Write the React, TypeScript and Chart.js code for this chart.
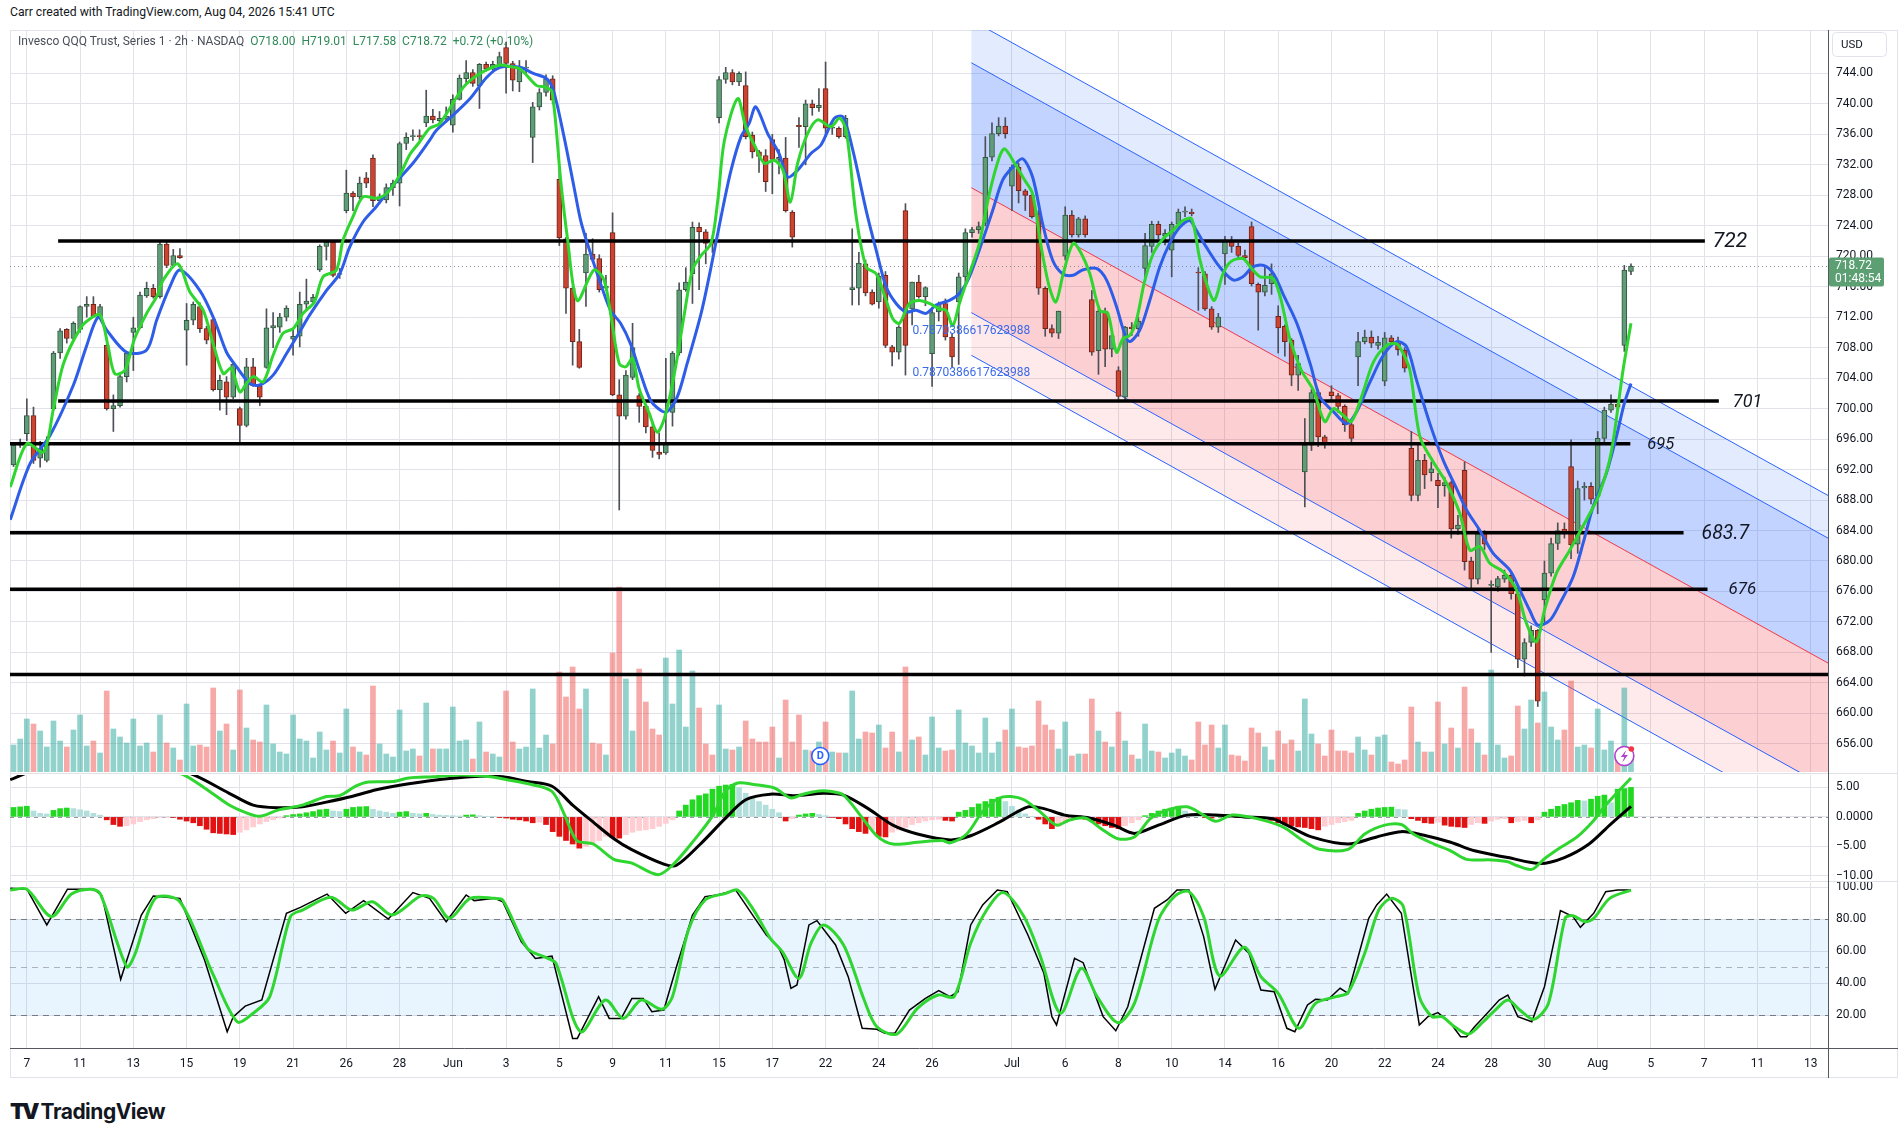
import React, { useEffect, useRef } from 'react';
import { Chart, registerables } from 'chart.js';

Chart.register(...registerables);

// ---------- price bars (2h, Invesco QQQ Trust) ----------
const openP = [
  692.6, 695.2, 696.7, 699.1, 693.5, 693.2, 700.0, 707.3, 710.4, 709.2,
  710.4, 713.4, 713.7, 712.1, 708.3, 700.0, 700.4, 704.2, 710.0, 710.6,
  714.8, 715.8, 714.7, 721.6, 718.8, 720.1, 710.3, 711.6, 713.4, 710.5,
  711.7, 702.5, 703.5, 701.5, 700.0, 697.8, 705.5, 703.0, 705.4, 710.6,
  710.7, 712.0, 709.1, 709.5, 713.7, 714.0, 718.2, 721.3, 721.9, 717.6,
  726.0, 728.3, 727.8, 730.3, 732.9, 727.3, 727.4, 729.0, 729.6, 734.8,
  735.7, 735.8, 737.5, 738.4, 737.8, 738.0, 737.2, 740.6, 743.3, 744.1,
  742.4, 745.2, 744.6, 745.1, 747.4, 745.3, 742.9, 744.7, 735.6, 739.6,
  741.5, 743.3, 730.1, 722.3, 715.8, 708.8, 717.8, 720.3, 719.7, 715.8,
  723.1, 701.8, 699.0, 704.1, 701.7, 700.3, 697.6, 694.3, 694.2, 699.5,
  707.3, 715.6, 717.7, 723.8, 723.2, 721.7, 738.2, 743.2, 744.1, 742.9,
  742.4, 735.9, 733.7, 733.2, 735.3, 732.7, 732.9, 725.8, 737.2, 737.0,
  740.0, 739.5, 742.0, 736.8, 736.8, 735.7, 715.6, 715.8, 719.0, 715.3,
  714.0, 717.5, 708.1, 707.4, 726.0, 713.1, 716.6, 714.7, 707.2, 712.7,
  713.8, 709.4, 714.0, 717.3, 723.1, 723.5, 724.3, 733.0, 736.1, 737.1,
  729.2, 731.7, 728.6, 728.0, 725.6, 715.8, 710.5, 709.9, 720.0, 725.4,
  722.8, 724.9, 714.3, 707.6, 712.8, 707.8, 705.0, 701.5, 710.7, 710.5,
  718.4, 721.3, 724.2, 722.7, 720.8, 724.2, 725.8, 725.8, 717.9, 717.7,
  713.1, 710.7, 720.3, 722.1, 721.3, 720.1, 723.9, 716.3, 715.3, 716.4,
  712.1, 710.8, 709.0, 704.4, 691.7, 695.2, 702.1, 696.3, 702.2, 701.7,
  700.3, 697.9, 706.8, 708.8, 709.4, 708.3, 703.6, 709.3, 708.7, 707.7,
  694.8, 688.6, 693.2, 691.6, 690.6, 689.9, 690.3, 684.2, 691.9, 680.0,
  677.6, 683.6, 676.8, 676.6, 677.6, 678.1, 675.7, 667.1, 669.3, 670.9,
  674.9, 678.4, 682.3, 684.2, 692.4, 682.2, 689.6, 689.8, 688.5, 696.1,
  699.8, 700.6, 708.3, 718.0,
];
const highP = [
  695.5, 696.0, 701.3, 700.2, 695.7, 696.3, 707.5, 710.5, 710.5, 711.4,
  713.5, 714.7, 714.7, 713.7, 708.4, 701.8, 704.4, 707.5, 712.0, 715.3,
  716.6, 716.3, 722.0, 722.0, 720.9, 721.0, 713.8, 714.0, 713.9, 710.8,
  711.8, 704.4, 704.2, 706.0, 700.2, 706.6, 706.6, 703.2, 713.1, 712.6,
  712.5, 713.5, 710.3, 715.3, 717.0, 715.0, 721.5, 722.0, 722.1, 718.4,
  731.3, 728.5, 730.4, 731.0, 733.3, 728.2, 729.5, 730.0, 735.0, 736.2,
  736.6, 736.6, 741.8, 739.3, 739.0, 739.6, 741.2, 743.8, 745.7, 744.5,
  745.3, 745.5, 745.6, 746.8, 748.1, 745.6, 745.7, 745.7, 740.2, 742.0,
  743.8, 743.7, 731.7, 722.5, 716.0, 710.4, 723.0, 722.3, 720.2, 717.5,
  725.7, 703.8, 705.0, 711.2, 702.0, 700.5, 698.0, 696.8, 706.6, 707.5,
  716.5, 718.5, 724.5, 724.4, 723.5, 722.3, 743.6, 744.8, 744.5, 744.2,
  744.2, 736.3, 733.9, 734.0, 736.0, 734.0, 735.6, 726.0, 738.2, 740.5,
  740.5, 742.0, 745.5, 737.5, 737.0, 738.5, 723.6, 720.5, 719.5, 715.6,
  717.8, 718.0, 708.3, 710.9, 726.9, 716.6, 717.5, 716.0, 713.2, 714.0,
  714.4, 709.8, 717.8, 723.6, 723.8, 724.5, 735.7, 737.5, 738.2, 738.2,
  732.0, 732.2, 728.8, 728.5, 726.0, 716.0, 711.0, 712.8, 726.5, 726.0,
  725.1, 725.3, 715.5, 713.5, 713.2, 710.0, 705.5, 710.8, 711.3, 712.0,
  723.0, 724.6, 724.6, 723.5, 724.5, 726.2, 726.5, 726.2, 718.5, 718.0,
  713.4, 712.5, 722.6, 722.6, 721.8, 720.8, 724.5, 716.5, 718.8, 719.0,
  713.5, 711.0, 709.2, 707.0, 698.7, 702.5, 702.5, 696.5, 703.0, 702.0,
  700.5, 698.5, 710.0, 710.3, 710.2, 709.5, 710.0, 709.6, 709.4, 708.0,
  697.0, 695.5, 694.0, 693.0, 691.5, 691.0, 690.5, 686.0, 693.0, 680.5,
  684.3, 684.0, 677.4, 678.0, 678.8, 678.5, 676.0, 669.8, 671.5, 671.0,
  680.0, 683.0, 685.0, 685.0, 695.9, 690.5, 690.3, 690.3, 697.0, 700.2,
  701.8, 701.0, 718.8, 719.01,
];
const lowP = [
  692.4, 694.9, 695.8, 692.8, 692.3, 693.0, 699.8, 706.6, 708.6, 709.0,
  710.0, 712.0, 712.0, 712.0, 699.8, 697.0, 700.2, 703.5, 705.0, 710.5,
  714.6, 714.5, 714.5, 718.5, 718.6, 719.7, 705.7, 711.0, 710.0, 708.5,
  702.3, 699.8, 699.2, 701.3, 695.6, 697.6, 702.9, 700.4, 705.3, 708.0,
  710.0, 711.5, 707.0, 708.1, 713.0, 713.8, 718.0, 719.5, 717.3, 717.1,
  725.7, 726.0, 727.5, 729.0, 726.5, 727.0, 727.0, 728.0, 726.6, 734.0,
  735.2, 735.2, 737.0, 737.5, 737.3, 737.8, 736.3, 740.5, 742.7, 742.3,
  739.4, 744.3, 744.3, 744.8, 741.4, 741.7, 741.6, 743.8, 732.3, 739.2,
  741.0, 740.0, 721.4, 712.5, 705.7, 705.3, 713.4, 719.3, 715.3, 715.5,
  701.7, 686.7, 698.6, 703.8, 698.2, 696.8, 693.6, 693.4, 694.0, 697.7,
  707.0, 715.4, 713.8, 715.6, 719.0, 720.5, 737.5, 742.7, 742.5, 742.4,
  735.4, 732.9, 731.0, 728.5, 728.2, 730.8, 725.8, 721.2, 734.3, 732.0,
  738.5, 739.0, 735.7, 736.0, 735.5, 735.5, 713.6, 713.6, 714.8, 713.6,
  713.2, 708.0, 705.6, 706.5, 704.4, 711.0, 714.5, 713.5, 702.9, 711.5,
  709.0, 705.5, 705.8, 716.5, 722.5, 723.0, 724.0, 732.5, 735.8, 735.5,
  726.0, 727.0, 726.0, 725.0, 715.0, 709.5, 709.4, 709.2, 719.5, 722.5,
  722.5, 722.5, 707.0, 704.5, 705.5, 706.8, 701.2, 701.0, 709.6, 709.5,
  717.3, 720.5, 722.3, 721.5, 717.3, 723.5, 725.2, 725.3, 712.9, 712.9,
  710.4, 710.0, 716.3, 720.5, 719.8, 719.5, 716.1, 710.3, 714.8, 715.0,
  707.3, 706.9, 703.0, 702.4, 687.1, 694.5, 695.0, 694.8, 701.0, 699.5,
  697.0, 695.5, 703.0, 708.5, 708.0, 707.8, 703.0, 708.4, 707.0, 704.8,
  687.9, 687.9, 689.5, 690.5, 687.0, 688.5, 683.0, 683.5, 678.8, 676.5,
  677.0, 681.5, 668.0, 676.0, 677.2, 675.0, 666.0, 664.9, 668.8, 660.9,
  672.0, 678.0, 681.5, 683.0, 680.3, 681.0, 688.0, 687.5, 686.2, 695.5,
  699.5, 699.8, 707.5, 717.58,
];
const closeP = [
  695.2, 695.6, 699.1, 693.2, 694.8, 695.6, 707.3, 710.2, 709.2, 711.2,
  713.4, 713.7, 712.1, 713.4, 700.0, 700.4, 704.2, 707.3, 710.6, 714.9,
  715.8, 714.7, 721.6, 718.8, 720.1, 719.8, 711.6, 713.7, 710.5, 709.0,
  702.5, 703.7, 701.5, 705.8, 697.8, 705.5, 703.0, 701.5, 710.6, 710.9,
  712.0, 713.2, 709.5, 713.7, 714.1, 714.6, 721.3, 721.9, 717.5, 717.6,
  728.3, 727.8, 729.6, 729.6, 727.3, 727.8, 729.0, 729.6, 734.8, 735.6,
  735.8, 735.7, 738.4, 737.9, 738.1, 738.4, 740.6, 743.4, 744.1, 742.7,
  745.2, 744.6, 745.2, 746.2, 745.3, 743.1, 744.6, 744.8, 739.6, 741.5,
  743.3, 740.5, 722.4, 715.8, 708.8, 705.4, 720.3, 719.6, 715.6, 716.1,
  701.8, 699.0, 704.4, 708.0, 700.3, 697.6, 694.5, 694.0, 695.3, 707.3,
  715.6, 716.6, 723.8, 723.2, 721.7, 721.6, 743.2, 744.1, 742.9, 744.0,
  735.7, 733.7, 733.1, 729.8, 732.7, 733.0, 726.0, 722.5, 737.0, 740.0,
  739.5, 739.8, 736.8, 736.9, 735.7, 738.1, 715.9, 719.1, 715.2, 713.7,
  717.4, 708.3, 707.4, 710.7, 708.3, 716.6, 714.7, 715.9, 712.6, 713.7,
  709.4, 706.8, 717.3, 723.1, 723.5, 723.9, 733.0, 736.1, 737.1, 736.1,
  731.7, 728.6, 728.0, 725.2, 715.8, 710.5, 709.9, 712.8, 725.4, 722.8,
  724.9, 722.8, 707.4, 712.8, 707.8, 709.6, 701.6, 710.7, 710.5, 711.5,
  721.4, 724.2, 722.8, 723.0, 724.2, 725.8, 725.9, 725.6, 717.8, 713.1,
  710.7, 712.0, 722.1, 721.3, 720.1, 719.8, 716.4, 715.3, 716.2, 717.7,
  710.6, 708.8, 704.4, 705.9, 695.2, 702.1, 696.3, 695.4, 701.7, 700.3,
  697.9, 696.1, 708.8, 709.4, 708.6, 708.7, 709.3, 708.8, 707.7, 705.3,
  688.6, 693.2, 691.3, 692.1, 689.9, 690.3, 684.2, 684.7, 679.9, 677.6,
  683.6, 682.2, 676.9, 677.7, 678.1, 675.7, 667.1, 669.3, 670.9, 661.6,
  678.4, 682.3, 684.0, 683.8, 682.1, 689.5, 689.8, 688.1, 696.1, 699.8,
  700.6, 700.2, 718.2, 718.72,
];
// volume, millions of shares
const volume = [
  2.7, 3.3, 5.3, 4.8, 4.1, 2.5, 5.1, 3.1, 2.5, 4.2,
  5.7, 2.6, 3.1, 1.9, 8.1, 4.3, 3.5, 2.9, 5.3, 2.6,
  2.9, 2.0, 5.7, 2.9, 2.4, 1.2, 6.8, 2.6, 2.7, 2.5,
  8.4, 4.1, 4.8, 2.2, 8.2, 4.4, 3.2, 3.0, 6.7, 2.8,
  2.0, 1.8, 5.7, 3.3, 3.1, 1.4, 4.0, 2.2, 3.1, 1.9,
  6.3, 2.5, 2.0, 1.7, 8.6, 2.8, 1.8, 1.5, 6.2, 2.1,
  2.3, 1.6, 6.9, 2.3, 2.3, 2.3, 6.5, 3.1, 3.2, 1.3,
  5.0, 2.0, 1.8, 1.5, 8.1, 3.0, 2.3, 2.5, 8.3, 2.4,
  3.7, 2.8, 10.0, 7.5, 10.5, 6.3, 8.3, 2.9, 2.8, 1.7,
  11.9, 18.5, 9.3, 4.1, 10.3, 7.0, 4.3, 3.7, 11.4, 6.8,
  12.2, 4.5, 10.1, 6.4, 2.8, 1.7, 6.7, 2.3, 2.2, 2.5,
  5.1, 3.3, 3.0, 3.0, 4.5, 1.4, 7.2, 3.0, 5.7, 2.2,
  2.1, 3.0, 5.0, 2.0, 1.9, 1.9, 8.1, 3.3, 4.0, 3.9,
  4.7, 2.4, 4.0, 2.0, 10.5, 3.2, 3.5, 1.7, 5.5, 2.4,
  2.1, 2.2, 6.2, 2.9, 2.6, 1.9, 5.4, 1.9, 3.0, 4.2,
  6.3, 2.5, 2.4, 2.6, 7.1, 4.7, 4.2, 2.3, 5.0, 1.6,
  1.8, 1.8, 7.3, 4.1, 3.0, 2.5, 6.0, 3.1, 1.7, 1.3,
  4.8, 2.1, 2.0, 1.4, 1.9, 2.3, 1.6, 1.2, 5.0, 2.7,
  4.7, 2.4, 4.7, 1.7, 1.6, 1.1, 4.4, 3.9, 2.5, 1.2,
  4.1, 2.8, 3.2, 2.1, 7.3, 3.8, 2.8, 1.6, 4.2, 2.1,
  2.1, 1.9, 3.5, 2.2, 1.7, 3.5, 3.7, 1.0, 0.8, 1.2,
  6.5, 3.0, 2.0, 2.0, 7.0, 2.8, 4.4, 2.4, 8.5, 4.3,
  2.9, 1.7, 10.2, 2.7, 1.4, 1.6, 6.6, 4.3, 7.2, 4.9,
  8.0, 4.5, 3.2, 4.2, 9.1, 2.5, 2.7, 2.4, 6.3, 2.2,
  3.1, 1.9, 8.4, 1.5,
];

// ---------- moving averages on price: [bar, price] ----------
const emaFast = [
  [-0.5, 689.7], [2, 695.4], [4.5, 694.3], [6, 700], [7.5, 705.9], [10, 710.5], [11.5, 711.8], [13, 712.3],
  [14.2, 708.2], [15.2, 704.6], [16.7, 705], [18.2, 709.2], [20, 712.5], [21.5, 714.7], [22.5, 716.9], [24.7, 719],
  [26.5, 715.3], [28.5, 712.9], [30, 708.5], [31.5, 704.6], [32.7, 705.3], [34, 702.2], [35, 703.3], [36, 704.2],
  [37.5, 703.5], [39, 707], [40.5, 709.9], [42, 710.5], [43.5, 712.5], [45.2, 714], [46.5, 717.3], [48.5, 718.2],
  [49.5, 722.1], [51, 725.2], [52.5, 727.8], [54.5, 727.6], [56, 728.2], [58, 730.6], [59.5, 733.3], [61, 735],
  [62.5, 736.8], [64, 737.4], [67.6, 742.2], [70.1, 744], [73.1, 745.1], [74.6, 744.9], [76.1, 744.6], [78.6, 742.4],
  [79.9, 742.2], [80.9, 741.6], [82.2, 730], [83.2, 722.5], [84.7, 714.2], [87.2, 718.2], [88.7, 716.9], [89.7, 712.5],
  [91, 705.9], [92, 705.5], [93, 706.6], [94, 702.6], [95.5, 699.4], [96.7, 696.9], [97.7, 698.5], [98.7, 702],
  [99.7, 706.6], [100.7, 712], [102, 718.2], [103.3, 720.1], [104.8, 721.7], [105.8, 727.3], [106.8, 735.2], [108.8, 740.7],
  [110, 737], [111.3, 734.6], [112.8, 732.2], [114.3, 732.6], [115.6, 731.3], [116.7, 727.1], [117.8, 732.2], [119.3, 736.1],
  [120.8, 737.9], [122.8, 737], [124.1, 738.1], [125.1, 736.5], [126.6, 725.2], [128.1, 718.6], [129.6, 717.7], [131.1, 714.2],
  [132.1, 711.8], [133.1, 711.2], [134.6, 713.8], [136.1, 714.2], [137.6, 713.8], [139.1, 713.1], [140.1, 712.9], [141.1, 710.9],
  [142.1, 713.8], [143.6, 717.7], [145.1, 721.7], [146.6, 728.2], [148.1, 733], [148.9, 734.1], [150.4, 732.2], [151.9, 730],
  [153.1, 728.2], [154.4, 721.2], [155.6, 716], [156.6, 714], [157.7, 717.7], [159.2, 721.7], [160.4, 720.4], [161.7, 717.7],
  [163.2, 712.9], [164.4, 712.5], [165.7, 707.4], [166.7, 709.2], [167.7, 709.6], [168.7, 711.6], [169.9, 716.6], [171.2, 720.3],
  [172.7, 722.3], [174.2, 723.4], [175.7, 724.7], [177, 724.9], [178.2, 719.7], [179.4, 716], [180.4, 714.2], [181.7, 717.7],
  [182.9, 719.3], [184.7, 719.7], [186, 718.4], [187.3, 717.3], [189.2, 717.1], [190.3, 714.7], [191.8, 709], [193.5, 705],
  [195.3, 702.4], [197, 698.3], [198.3, 700], [199.8, 699.1], [201, 698.3], [202.5, 701.5], [204.3, 706.1], [206.3, 708.3],
  [207.8, 708.5], [208.8, 707.2], [209.8, 705], [211.3, 696.3], [213.3, 693], [215.3, 690.2], [217.3, 686.2], [218.8, 681.4],
  [220.3, 681.9], [221.8, 679.7], [223.8, 678.6], [225.8, 676.2], [227.3, 671.8], [228.8, 669.4], [230, 673.5], [231.8, 678.4],
  [233.8, 681.4], [235.3, 683.8], [236.8, 686.2], [238.3, 688.9], [240, 694.1], [241.8, 705], [243, 711.2],
];
const emaSlow = [
  [-0.5, 685.4], [2.5, 692.8], [5.5, 696.5], [9, 703.1], [11, 708.3], [12.7, 712], [14, 710.3], [17, 707.4],
  [20, 707.7], [21.5, 711.6], [23.5, 716], [25, 718.2], [28, 715.5], [30.2, 711.6], [32, 707.4], [33.5, 705.5],
  [35.5, 703.3], [37, 703.1], [39, 704.4], [41, 707.2], [43, 710.1], [44.5, 712.3], [47, 715.5], [49, 717.7],
  [50.5, 721.2], [52.5, 724.5], [54.5, 726.5], [57, 729.3], [60, 732.2], [62.5, 735.2], [63.5, 736.5], [66, 738.5],
  [68.6, 740.7], [71.1, 743.5], [73.1, 744.8], [76.1, 744.8], [78.1, 744], [80.1, 743.3], [81.1, 741.8], [82.7, 735.7],
  [84.2, 729.1], [85.2, 724.7], [86.2, 721.7], [88.2, 716.4], [89.7, 712.9], [91.2, 711.2], [92.7, 708.5], [94.2, 704.6],
  [95.7, 701.1], [97.2, 699.8], [98.2, 699.6], [99.7, 701.5], [101.2, 705.9], [103.3, 712.5], [104.8, 718.6], [106.3, 725.2],
  [107.8, 731.3], [109.3, 735.7], [110.5, 737.4], [111.5, 739.6], [113.3, 736.1], [115, 733.5], [116.3, 730.4], [117.8, 731.3],
  [119.8, 733.5], [121.3, 734.6], [123.3, 738.1], [124.6, 738.3], [126.1, 733.9], [128.1, 726], [129.6, 720.8], [131.1, 716],
  [132.6, 713.8], [134.1, 712.7], [135.6, 712.9], [137.1, 712.5], [138.6, 713.6], [140.6, 714.2], [142.1, 715.1], [143.6, 717.3],
  [145.6, 722.1], [147.1, 726], [148.6, 730], [150.1, 731.7], [151.6, 732.8], [153.1, 730.4], [154.6, 724.3], [156.1, 719.5],
  [157.6, 717.7], [159.2, 717.5], [160.6, 718.2], [162.7, 718.4], [164.2, 716.9], [165.7, 713.4], [166.9, 709.9], [167.7, 708.8],
  [169.2, 710.3], [170.7, 714.2], [172.2, 718.6], [173.7, 721.7], [175.2, 723.8], [176.7, 724.7], [177.7, 723.4], [179.2, 721.2],
  [181.2, 718.6], [183.2, 716.9], [184.7, 717.3], [186.2, 718.6], [187.8, 718.8], [189.3, 717.7], [190.8, 714.9], [192.8, 711.2],
  [194.8, 705.9], [196.3, 701.5], [198.3, 699.6], [200.3, 698], [201.8, 699.6], [203.8, 703.5], [205.8, 707], [207.8, 708.8],
  [209.3, 708.1], [210.8, 703.7], [212.8, 698], [214.8, 693.2], [216.8, 689.5], [218.3, 686.7], [220.3, 684], [222.3, 681],
  [224.8, 678.8], [226.3, 676.2], [227.8, 673.5], [229, 671.6], [230.8, 672.2], [232.3, 674.4], [234.3, 677.9], [235.8, 682.3],
  [237.3, 687.1], [239.3, 691.5], [240.8, 696.3], [242, 700.7], [243, 703.3],
];

// ---------- MACD ----------
const macdHist = [
  1.6, 1.7, 1.8, 1.0, 0.6, 0.5, 1.1, 1.4, 1.5, 1.4,
  1.2, 1.0, 0.6, 0.3, -0.5, -1.3, -1.6, -1.5, -1.2, -0.8,
  -0.5, -0.3, -0.1, -0.05, -0.1, -0.4, -0.7, -1.0, -1.5, -2.1,
  -2.7, -2.8, -2.9, -3.0, -2.6, -2.2, -1.7, -1.2, -0.8, -0.5,
  -0.2, 0.2, 0.4, 0.5, 0.7, 0.9, 1.2, 1.3, 1.0, 0.9,
  1.3, 1.6, 1.7, 1.75, 1.3, 1.0, 0.8, 0.6, 0.8, 0.9,
  0.6, 0.5, 0.6, 0.4, 0.3, 0.25, 0.2, 0.15, 0.3, 0.35,
  0.2, 0.1, 0.05, -0.1, -0.2, -0.4, -0.5, -0.7, -1.0, -0.9,
  -1.3, -2.5, -3.3, -4.0, -4.6, -5.3, -5.0, -4.6, -4.0, -3.3,
  -3.5, -3.6, -3.0, -2.6, -2.3, -2.2, -2.0, -1.6, -1.1, -0.5,
  1.0, 2.0, 2.9, 3.6, 3.9, 4.7, 5.2, 5.4, 5.5, 5.0,
  4.0, 3.3, 2.6, 2.0, 1.3, 0.7, -0.7, -0.3, 0.3, 0.5,
  0.6, 0.4, 0.2, -0.1, -0.3, -1.2, -2.0, -2.5, -2.8, -2.2,
  -3.3, -3.4, -2.6, -2.2, -1.8, -1.3, -1.0, -0.7, -0.5, -0.4,
  -0.6, -0.7, 0.8, 1.1, 1.6, 2.2, 2.6, 3.0, 3.3, 2.6,
  1.8, 1.2, 0.5, 0.1, -0.4, -1.2, -2.0, -1.6, -1.0, -0.5,
  -0.2, -0.4, -0.8, -1.2, -1.5, -1.8, -2.0, -1.5, -1.0, -0.5,
  0.2, 0.6, 1.0, 1.3, 1.5, 1.8, 1.0, 0.5, 0.1, -0.1,
  -0.2, 0.15, 0.3, 0.1, -0.05, 0.05, -0.1, -0.2, -0.3, -0.6,
  -1.0, -1.2, -1.5, -1.7, -1.8, -2.0, -2.2, -1.6, -1.3, -1.0,
  -0.8, -0.6, 0.6, 1.0, 1.3, 1.5, 1.6, 1.65, 1.3, 1.2,
  -0.3, -0.6, -1.0, -1.1, -0.9, -1.4, -1.6, -1.7, -1.8, -1.3,
  -1.0, -1.1, -0.7, -0.4, -0.3, -1.0, -0.8, -0.6, -1.0, -0.5,
  0.8, 1.3, 1.8, 2.1, 2.4, 2.8, 2.7, 3.0, 3.5, 3.7,
  2.4, 4.7, 4.8, 5.0,
];
const macdLine = [
  [-0.5, 7.8], [3, 8.4], [8, 9.0], [13, 8.6], [16.4, 7.7], [21.3, 7.6], [25, 7.4], [28.7, 4.9],
  [32.4, 2.0], [34.8, 0.75], [37, 0.1], [39.7, 1.15], [43.4, 2.0], [47, 3.45], [49, 3.6], [51.4, 5.2],
  [53.3, 5.9], [57, 6.0], [59.4, 6.6], [63.1, 6.8], [67.4, 7.1], [71.7, 6.8], [74.1, 6.3], [77.8, 5.5],
  [80.9, 4.3], [82.8, 0.3], [84.6, -4.0], [87.1, -4.6], [90.2, -7.2], [92.8, -7.8], [96.8, -9.8], [98.9, -8.3],
  [102, -4.3], [105.1, 0.3], [106.9, 4.3], [108.8, 5.75], [111.2, 5.5], [114.3, 4.9], [116.8, 3.2], [118.6, 3.85],
  [121, 4.4], [122.9, 4.3], [124.7, 3.7], [127.2, 0.3], [129.7, -3.2], [132.1, -4.6], [135.8, -4.3], [139.5, -4.0],
  [140.7, -4.4], [143.2, -2.9], [145.6, 0.9], [148.1, 3.2], [149.9, 3.45], [151.8, 2.9], [154.2, 0.9], [156.7, -1.4],
  [158.5, -0.6], [161, -0.2], [163.4, -2.0], [165.9, -3.7], [168.4, -3.4], [170.8, -0.3], [173.3, 1.15], [176.3, 1.7],
  [178.8, 0.3], [180.6, -0.75], [183.1, 0.3], [186.8, -0.3], [190.7, -1.7], [193.7, -4.0], [196.2, -5.5], [200.5, -5.5],
  [203, -2.9], [206, -1.4], [208.5, -1.3], [210.3, -2.9], [213.4, -4.6], [215.9, -5.75], [218.3, -7.2], [222, -7.3],
  [224.5, -7.6], [225.7, -8.2], [228.1, -8.9], [230, -7.1], [232.4, -5.2], [234.9, -3.4], [237.4, -0.6], [239.2, 2.0],
  [243, 6.6],
];
const signalLine = [
  [-0.5, 6.3], [2.9, 7.8], [8, 8.8], [15, 8.9], [20, 8.5], [26.2, 7.5], [32.4, 4.0], [36, 2.0],
  [39.7, 1.55], [43.4, 1.7], [47, 2.5], [50.8, 3.45], [54.5, 4.6], [59.4, 5.6], [65.5, 6.5], [70.4, 6.9],
  [73.5, 6.8], [77.2, 6.0], [80.9, 5.2], [84, 2.0], [87.1, -0.9], [90.2, -3.7], [92.8, -5.5], [97.7, -8.0],
  [99.6, -8.2], [103.2, -4.6], [106.9, -0.3], [110, 2.9], [113.7, 3.85], [117.4, 3.6], [121.7, 4.0], [124.7, 3.7],
  [128.4, 1.4], [132.1, -1.4], [135.8, -2.9], [140.7, -3.9], [143.8, -3.2], [148.1, -0.9], [152.4, 1.7], [154.8, 1.4],
  [157.9, 0.3], [161.6, -0.2], [165.3, -1.4], [168.4, -2.8], [172, -1.4], [176.3, 0.3], [180.6, 0.3], [184.9, 0],
  [189.1, -0.3], [191.3, -1.4], [195, -3.4], [200.5, -4.6], [204.8, -3.4], [208.5, -2.5], [212.2, -3.2], [215.9, -4.3],
  [219.5, -5.75], [224.5, -6.9], [229.4, -7.9], [233, -6.9], [236.7, -4.6], [239.8, -1.4], [243, 1.8],
];

// ---------- Stochastic ----------
const stochK = [
  [-0.5, 99.4], [2, 98.8], [5, 76.5], [8.1, 98.8], [12.1, 98.8], [13.3, 94.6], [16.1, 42.5], [19.2, 82.7],
  [21, 94.6], [25, 93], [28.7, 54.6], [32.1, 9.8], [33, 19], [34.8, 25.8], [37.3, 29.6], [41, 83.8],
  [43.1, 87.5], [47.1, 95.8], [49.9, 83.8], [52.6, 91.7], [56.3, 80.2], [60, 96.7], [62.5, 93.1], [65, 78.5],
  [68, 95.2], [69.2, 91.7], [72.3, 93.1], [73.5, 91], [76.3, 66], [78.4, 55.6], [80.9, 57], [84, 5.6],
  [84.7, 5.6], [87.9, 31.7], [89.5, 18.1], [91.3, 18.1], [92.9, 30.6], [94.6, 30.6], [95.9, 22.3], [97.7, 23.3],
  [99.6, 50.4], [102, 82.7], [103.9, 94.2], [105.7, 95.2], [108.5, 98.3], [111.2, 81.7], [113.1, 70.2], [114.9, 62.9],
  [115.8, 54.6], [116.8, 36.9], [117.7, 39], [119.5, 76.5], [120.7, 79.2], [123.5, 64], [125.4, 44.2], [127.5, 11.9],
  [129.7, 11.3], [130.9, 8.8], [132.4, 8.8], [134.6, 23.3], [137, 30.6], [139, 35.4], [140.7, 31.7], [141.9, 34.8],
  [143.8, 76.5], [145.6, 89], [147.8, 98.3], [149.3, 97.3], [152.4, 70.2], [154.8, 46.3], [156, 19.2], [156.7, 14],
  [159.4, 55.6], [160.7, 52.9], [163.7, 19.2], [165.6, 10.4], [167.4, 25.4], [171.4, 86.9], [173.3, 92.1], [174.8, 98.3],
  [176.6, 98.3], [178.8, 69.2], [180.5, 36.3], [183.6, 67.1], [185.6, 58.8], [187.4, 35.8], [189.4, 34.8], [191.3, 11.9],
  [192.5, 9.8], [194.4, 26.5], [195.6, 30], [197.4, 29.6], [199.3, 36.9], [200.5, 33.8], [203.6, 80.6], [204.8, 89],
  [206.3, 95.8], [208.5, 83.8], [209.7, 52.5], [211.2, 14], [212.5, 19.2], [214, 21.7], [215.9, 15], [217.4, 6.7],
  [218.3, 6.7], [219.5, 12.9], [221.4, 21.3], [223.2, 29.6], [224.5, 32.7], [226, 19.2], [228.1, 16], [230, 37.9],
  [231.8, 73.3], [232.4, 85.4], [234.3, 81.7], [235.4, 75], [237.4, 83.8], [239.2, 97.3], [241, 98.3], [243, 98.3],
];
const stochD = [
  [-0.5, 98.3], [2, 98.8], [5.7, 81.7], [8.7, 95.8], [11.5, 98.8], [13, 96.2], [17, 50.4], [18.2, 57.7],
  [21.3, 93.1], [25, 91], [29.9, 46.3], [33.6, 16], [36, 21.3], [38.5, 31.7], [41.6, 81.7], [43.4, 85.8],
  [47.7, 93.8], [50.8, 85.8], [53.9, 91], [56.9, 82.7], [61.2, 94.6], [63.1, 93.1], [65.5, 80.6], [68.6, 93.1],
  [72.3, 93.1], [73.5, 92.1], [77.2, 61.9], [80.3, 55.6], [81.5, 52.5], [85.2, 9.8], [88.9, 29.6], [91.6, 18.1],
  [94.3, 29.6], [97.4, 23.8], [99, 31.7], [101.4, 73.3], [103.9, 92.1], [107, 96.2], [108.8, 98.3], [111.2, 85.8],
  [113.7, 68.1], [115.5, 59.8], [118, 43.1], [119.8, 65], [121.7, 76.5], [124.7, 64], [127.8, 29.6], [129.7, 12.9],
  [132.7, 8.3], [135.8, 24.4], [138.9, 32.7], [141.3, 31.7], [143.8, 65], [146.2, 85.8], [148.7, 96.7], [151.8, 81.7],
  [154.2, 57.7], [157.3, 21.3], [160.4, 49.4], [162.8, 31.7], [165.9, 15.4], [168.4, 27.5], [172, 79.6], [174.5, 94.6],
  [176.6, 97.3], [178.8, 81.7], [181.2, 44.6], [184.9, 62.5], [187.4, 44.2], [190, 33.8], [193.1, 11.9], [195.6, 27.5],
  [198.7, 31.7], [200.5, 34.2], [203, 58.8], [205.1, 85.8], [207, 93.1], [208.8, 87.9], [211.2, 31.7], [213.1, 19.2],
  [214.6, 19.2], [216.5, 12.9], [218.6, 8.3], [220.8, 16], [222.6, 23.3], [224.5, 29.6], [226.3, 23.3], [228.4, 17.5],
  [230.6, 27.5], [233.1, 80.6], [234.3, 82.3], [236.1, 78.5], [237.4, 80.6], [239.8, 93.1], [243, 98.3],
];

// ---------- axes ----------
const tickBars = [2, 10, 18, 26, 34, 42, 50, 58, 66, 74, 82, 90, 98, 106, 114, 122, 130, 138, 150, 158, 166, 174, 182, 190, 198, 206, 214, 222, 230, 238, 246, 254, 262, 270];
const tickLabels = ['7', '11', '13', '15', '19', '21', '26', '28', 'Jun', '3', '5', '9', '11', '15', '17', '22', '24', '26', 'Jul', '6', '8', '10', '14', '16', '20', '22', '24', '28', '30', 'Aug', '5', '7', '11', '13'];
const priceTicks = [744, 740, 736, 732, 728, 724, 720, 716, 712, 708, 704, 700, 696, 692, 688, 684, 680, 676, 672, 668, 664, 660, 656];
const macdTicks = [5, 0, -5, -10];
const stochTicks = [100, 80, 60, 40, 20];

// ---------- drawings ----------
const levelPrices = [722, 701, 695.4, 683.7, 676.3, 665.1];
const levelFrom = [6.7, 6.7, -0.6, -0.6, -0.6, -0.6];
const levelTo = [254.1, 256.2, 242.9, 250.9, 254.5, 273];
const levelText = ['722', '701', '695', '683.7', '676', ''];
const channelStart = [143.9, 729.0];
const channelEnd = [272.6, 666.6];
const channelOffsets = [22.0, 16.4, 0, -16.4, -22.0];
const channelValue = '0.7870386617623988';
const lastPrice = 718.72;
const countdown = '01:48:54';
const dividendBar = 121.2;
const earningsBar = 242.0;

// ---------- style ----------
const FONT = 'Roboto, "Noto Sans", sans-serif';
const TEXT = '#131722';
const GRID = '#e1e3e8';
const AXIS = '#55585f';
const X_MIN = -0.53;
const X_MAX = 272.6;
const AXIS_W = 70;
const LEVEL_STYLE = [
  { size: 21, gap: 8 },
  { size: 18, gap: 14 },
  { size: 16.5, gap: 17 },
  { size: 19.5, gap: 18 },
  { size: 17, gap: 21 },
  { size: 0, gap: 0 },
];

Chart.defaults.font.family = FONT;

const bars = openP.map((_, i) => i);
const isUp = (i: number) => closeP[i] >= openP[i];
const pts = (arr: number[][]) => arr.map(([x, y]) => ({ x, y }));

const histColors = macdHist.map((v, i) => {
  const prev = i > 0 ? macdHist[i - 1] : v;
  if (v >= 0) return v >= prev ? '#22d922' : '#b2dfdb';
  return v <= prev ? '#e31212' : '#ffcdd2';
});

const xScale = (labels: boolean) => ({
  type: 'linear',
  min: X_MIN,
  max: X_MAX,
  offset: false,
  afterBuildTicks: (s: any) => {
    s.ticks = tickBars.map((v) => ({ value: v }));
  },
  afterFit: (s: any) => {
    s.height = labels ? 30 : 0;
    s.paddingLeft = 0;
    s.paddingRight = 0;
  },
  ticks: {
    display: labels,
    autoSkip: false,
    maxRotation: 0,
    padding: 9,
    color: TEXT,
    font: { size: 12 },
    callback: (_v: any, idx: number) => tickLabels[idx],
  },
  grid: { color: GRID, drawTicks: false, offset: false },
  border: { display: labels, color: AXIS },
});

const yScale = (min: number, max: number, ticks: number[], fmt: (v: number) => string) => ({
  position: 'right',
  min,
  max,
  afterBuildTicks: (s: any) => {
    s.ticks = ticks.map((v) => ({ value: v }));
  },
  afterFit: (s: any) => {
    s.width = AXIS_W;
    s.paddingTop = 0;
    s.paddingBottom = 0;
  },
  ticks: { padding: 8, color: TEXT, font: { size: 12 }, callback: (v: any) => fmt(Number(v)) },
  grid: { color: GRID, drawTicks: false },
  border: { display: true, color: AXIS },
});

const baseOptions = {
  responsive: false,
  animation: false,
  events: [],
  plugins: { legend: { display: false }, tooltip: { enabled: false } },
};

const mainOverlay = {
  id: 'mainOverlay',
  beforeDatasetsDraw(chart: any) {
    const { ctx, chartArea: a, scales } = chart;
    const x = scales.x;
    const y = scales.y;
    ctx.save();
    ctx.beginPath();
    ctx.rect(a.left, a.top, a.width, a.height);
    ctx.clip();
    const x0 = x.getPixelForValue(channelStart[0]);
    const x1 = x.getPixelForValue(channelEnd[0]);
    const fills = ['rgba(41,98,255,0.13)', 'rgba(41,98,255,0.28)', 'rgba(242,54,69,0.24)', 'rgba(242,54,69,0.11)'];
    for (let k = 0; k < channelOffsets.length - 1; k++) {
      const p = channelOffsets[k];
      const q = channelOffsets[k + 1];
      ctx.beginPath();
      ctx.moveTo(x0, y.getPixelForValue(channelStart[1] + p));
      ctx.lineTo(x1, y.getPixelForValue(channelEnd[1] + p));
      ctx.lineTo(x1, y.getPixelForValue(channelEnd[1] + q));
      ctx.lineTo(x0, y.getPixelForValue(channelStart[1] + q));
      ctx.closePath();
      ctx.fillStyle = fills[k];
      ctx.fill();
    }
    channelOffsets.forEach((off) => {
      ctx.beginPath();
      ctx.moveTo(x0, y.getPixelForValue(channelStart[1] + off));
      ctx.lineTo(x1, y.getPixelForValue(channelEnd[1] + off));
      ctx.lineWidth = 1;
      ctx.strokeStyle = off === 0 ? '#f23645' : '#2962ff';
      ctx.stroke();
    });
    const py = Math.round(y.getPixelForValue(lastPrice)) + 0.5;
    ctx.setLineDash([1, 3]);
    ctx.strokeStyle = '#8a8d96';
    ctx.beginPath();
    ctx.moveTo(a.left, py);
    ctx.lineTo(a.right, py);
    ctx.stroke();
    ctx.restore();
  },
  afterDatasetsDraw(chart: any) {
    const { ctx, chartArea: a, scales } = chart;
    const x = scales.x;
    const y = scales.y;
    ctx.save();
    ctx.beginPath();
    ctx.rect(a.left, a.top, a.width, a.height);
    ctx.clip();
    ctx.fillStyle = TEXT;
    ctx.textBaseline = 'middle';
    ctx.textAlign = 'left';
    levelText.forEach((t, k) => {
      if (!t) return;
      const st = LEVEL_STYLE[k];
      ctx.font = `italic ${st.size}px ${FONT}`;
      ctx.fillText(t, x.getPixelForValue(levelTo[k]) + st.gap, y.getPixelForValue(levelPrices[k]) + 1);
    });
    ctx.font = `12px ${FONT}`;
    ctx.fillStyle = '#3a6ae8';
    ctx.textAlign = 'center';
    const cx = x.getPixelForValue(channelStart[0]);
    ctx.fillText(channelValue, cx, y.getPixelForValue(channelStart[1] + channelOffsets[3]) + 18);
    ctx.fillText(channelValue, cx, y.getPixelForValue(channelStart[1] + channelOffsets[4]) + 18);

    // dividend marker
    const iy = a.bottom - 16;
    const dx = x.getPixelForValue(dividendBar);
    ctx.beginPath();
    ctx.arc(dx, iy, 8.5, 0, Math.PI * 2);
    ctx.fillStyle = '#fff';
    ctx.fill();
    ctx.lineWidth = 1.6;
    ctx.strokeStyle = '#2962ff';
    ctx.stroke();
    ctx.fillStyle = '#2962ff';
    ctx.font = `bold 11px ${FONT}`;
    ctx.fillText('D', dx, iy + 0.5);

    // earnings marker
    const ex = x.getPixelForValue(earningsBar);
    ctx.beginPath();
    ctx.arc(ex, iy, 9.5, 0, Math.PI * 2);
    ctx.fillStyle = '#fff';
    ctx.fill();
    ctx.strokeStyle = '#b23fcf';
    ctx.stroke();
    ctx.beginPath();
    ctx.moveTo(ex + 2, iy - 6);
    ctx.lineTo(ex - 3.5, iy + 1);
    ctx.lineTo(ex, iy + 1);
    ctx.lineTo(ex - 2, iy + 6.5);
    ctx.lineTo(ex + 3.5, iy - 1);
    ctx.lineTo(ex, iy - 1);
    ctx.closePath();
    ctx.fillStyle = '#b23fcf';
    ctx.fill();
    ctx.beginPath();
    ctx.arc(ex + 7, iy - 7, 2.8, 0, Math.PI * 2);
    ctx.fillStyle = '#f23645';
    ctx.fill();
    ctx.restore();
  },
  afterDraw(chart: any) {
    const { ctx, chartArea: a, scales } = chart;
    const py = scales.y.getPixelForValue(lastPrice);
    ctx.save();
    const left = a.right + 1;
    const top = py - 8.5;
    ctx.fillStyle = '#5b9f73';
    ctx.beginPath();
    ctx.roundRect(left, top, 55, 29, 2);
    ctx.fill();
    ctx.fillStyle = '#fff';
    ctx.font = `12px ${FONT}`;
    ctx.textBaseline = 'middle';
    ctx.textAlign = 'left';
    ctx.fillText(lastPrice.toFixed(2), left + 6, top + 8);
    ctx.fillText(countdown, left + 6, top + 21.5);

    // currency box
    ctx.fillStyle = '#fff';
    ctx.strokeStyle = '#e0e3eb';
    ctx.lineWidth = 1;
    ctx.beginPath();
    ctx.roundRect(a.right + 4.5, a.top + 2.5, 54, 24, 4);
    ctx.fill();
    ctx.stroke();
    ctx.fillStyle = TEXT;
    ctx.font = `11.5px ${FONT}`;
    ctx.fillText('USD', a.right + 13, a.top + 15);
    ctx.restore();
  },
};

const zeroLine = {
  id: 'zeroLine',
  beforeDatasetsDraw(chart: any) {
    const { ctx, chartArea: a, scales } = chart;
    const y0 = Math.round(scales.y.getPixelForValue(0)) + 0.5;
    ctx.save();
    ctx.setLineDash([4, 4]);
    ctx.strokeStyle = '#9598a1';
    ctx.lineWidth = 1;
    ctx.beginPath();
    ctx.moveTo(a.left, y0);
    ctx.lineTo(a.right, y0);
    ctx.stroke();
    ctx.restore();
  },
};

const stochBand = {
  id: 'stochBand',
  beforeDatasetsDraw(chart: any) {
    const { ctx, chartArea: a, scales } = chart;
    const y = scales.y;
    const y80 = Math.round(y.getPixelForValue(80)) + 0.5;
    const y50 = Math.round(y.getPixelForValue(50)) + 0.5;
    const y20 = Math.round(y.getPixelForValue(20)) + 0.5;
    ctx.save();
    ctx.fillStyle = 'rgba(33,150,243,0.1)';
    ctx.fillRect(a.left, y80, a.width, y20 - y80);
    ctx.lineWidth = 1;
    ctx.setLineDash([6, 5]);
    [[y80, '#787b86'], [y50, 'rgba(120,123,134,0.55)'], [y20, '#787b86']].forEach(([yy, c]) => {
      ctx.strokeStyle = c;
      ctx.beginPath();
      ctx.moveTo(a.left, yy as number);
      ctx.lineTo(a.right, yy as number);
      ctx.stroke();
    });
    ctx.restore();
  },
};

const mainConfig = (): any => ({
  type: 'line',
  data: {
    datasets: [
      {
        type: 'bar',
        yAxisID: 'yv',
        data: bars.map((i) => ({ x: i, y: volume[i] })),
        backgroundColor: bars.map((i) => (isUp(i) ? 'rgba(38,166,154,0.5)' : 'rgba(239,83,80,0.5)')),
        barThickness: 5,
        grouped: false,
        order: 9,
      },
      {
        type: 'bar',
        yAxisID: 'y',
        data: bars.map((i) => ({ x: i, y: [lowP[i], highP[i]] })),
        backgroundColor: '#4d5058',
        barThickness: 1,
        grouped: false,
        order: 8,
      },
      {
        type: 'bar',
        yAxisID: 'y',
        data: bars.map((i) => ({ x: i, y: [openP[i], closeP[i]] })),
        backgroundColor: bars.map((i) => (isUp(i) ? '#5f9c78' : '#cc4431')),
        borderColor: bars.map((i) => (isUp(i) ? '#34563f' : '#6e2419')),
        borderWidth: 1,
        borderSkipped: false,
        barThickness: 5,
        minBarLength: 1,
        grouped: false,
        order: 7,
      },
      ...levelPrices.map((p, k) => ({
        type: 'line',
        yAxisID: 'y',
        data: [{ x: levelFrom[k], y: p }, { x: levelTo[k], y: p }],
        borderColor: '#000',
        borderWidth: 3.5,
        pointRadius: 0,
        order: 4,
      })),
      {
        type: 'line',
        yAxisID: 'y',
        data: pts(emaSlow),
        borderColor: '#2e5de8',
        borderWidth: 3,
        pointRadius: 0,
        tension: 0.3,
        order: 3,
      },
      {
        type: 'line',
        yAxisID: 'y',
        data: pts(emaFast),
        borderColor: '#2fd62f',
        borderWidth: 3,
        pointRadius: 0,
        tension: 0.3,
        order: 2,
      },
    ],
  },
  options: {
    ...baseOptions,
    layout: { padding: 0 },
    scales: {
      x: xScale(false),
      y: yScale(652.3, 749.7, priceTicks, (v) => v.toFixed(2)),
      yv: { display: false, min: 0, max: 74.2 },
    },
  },
  plugins: [mainOverlay],
});

const fmtMacd = (v: number) => (v === 0 ? '0.0000' : (v < 0 ? '\u2212' : '') + Math.abs(v).toFixed(2));

const macdConfig = (): any => ({
  type: 'line',
  data: {
    datasets: [
      {
        type: 'bar',
        data: bars.map((i) => ({ x: i, y: macdHist[i] })),
        backgroundColor: histColors,
        barThickness: 5,
        grouped: false,
        order: 5,
      },
      { type: 'line', data: pts(signalLine), borderColor: '#000', borderWidth: 3, pointRadius: 0, tension: 0.3, order: 2 },
      { type: 'line', data: pts(macdLine), borderColor: '#2fd62f', borderWidth: 3, pointRadius: 0, tension: 0.3, order: 1 },
    ],
  },
  options: {
    ...baseOptions,
    layout: { padding: { bottom: 5 } },
    scales: { x: xScale(false), y: yScale(-10.7, 7.1, macdTicks, fmtMacd) },
  },
  plugins: [zeroLine],
});

const stochConfig = (): any => ({
  type: 'line',
  data: {
    datasets: [
      { data: pts(stochK), borderColor: '#000', borderWidth: 1.5, pointRadius: 0, tension: 0, order: 2 },
      { data: pts(stochD), borderColor: '#2fd62f', borderWidth: 3, pointRadius: 0, tension: 0.3, order: 1 },
    ],
  },
  options: {
    ...baseOptions,
    layout: { padding: { top: 5 } },
    scales: { x: xScale(true), y: yScale(-0.4, 102.7, stochTicks, (v) => v.toFixed(2)) },
  },
  plugins: [stochBand],
});

const Pane: React.FC<{ top: number; height: number; build: () => any }> = ({ top, height, build }) => {
  const ref = useRef<HTMLCanvasElement | null>(null);
  useEffect(() => {
    if (!ref.current) return;
    const chart = new Chart(ref.current, build());
    return () => chart.destroy();
  }, []);
  return (
    <canvas
      ref={ref}
      width={1888}
      height={height}
      style={{ position: 'absolute', left: 10, top, width: 1888, height, display: 'block' }}
    />
  );
};

const hLine = (top: number, left: number, width: number, color: string) => (
  <div style={{ position: 'absolute', left, top, width, height: 1, background: color }} />
);

const App: React.FC = () => {
  return (
    <div
      style={{
        position: 'absolute',
        left: 0,
        top: 0,
        width: 1900,
        height: 1135,
        background: '#fff',
        fontFamily: FONT,
        color: TEXT,
        overflow: 'hidden',
      }}
    >
      <div style={{ position: 'absolute', left: 10, top: 5, fontSize: 12.2 }}>
        Carr created with TradingView.com, Aug 04, 2026 15:41 UTC
      </div>
      <div
        style={{
          position: 'absolute',
          left: 10,
          top: 30,
          width: 1888,
          height: 1048,
          border: '1px solid #e0e3eb',
          boxSizing: 'border-box',
        }}
      />
      <Pane top={30} height={742} build={mainConfig} />
      <Pane top={775} height={110} build={macdConfig} />
      <Pane top={878} height={200} build={stochConfig} />
      {hLine(773, 10, 1888, '#dfe1e6')}
      {hLine(881, 10, 1888, '#dfe1e6')}
      {hLine(1048, 1828, 70, AXIS)}
      <div style={{ position: 'absolute', left: 1828, top: 30, width: 1, height: 1048, background: AXIS }} />
      <div style={{ position: 'absolute', left: 18, top: 34, fontSize: 12, whiteSpace: 'pre', color: '#4a4e59' }}>
        {'Invesco QQQ Trust, Series 1 \u00b7 2h \u00b7 NASDAQ  '}
        <span style={{ color: '#2f8a58' }}>{'O718.00  H719.01  L717.58  C718.72  +0.72 (+0.10%)'}</span>
      </div>
      <div
        style={{
          position: 'absolute',
          left: 10,
          top: 1098,
          display: 'flex',
          alignItems: 'center',
          gap: 4,
          color: '#131722',
        }}
      >
        <span style={{ fontSize: 22, fontWeight: 900, letterSpacing: -3, fontFamily: 'Inter, Roboto, sans-serif' }}>TV</span>
        <span style={{ fontSize: 21, fontWeight: 700, letterSpacing: -0.5, fontFamily: 'Inter, Roboto, sans-serif' }}>TradingView</span>
      </div>
    </div>
  );
};

export default App;
